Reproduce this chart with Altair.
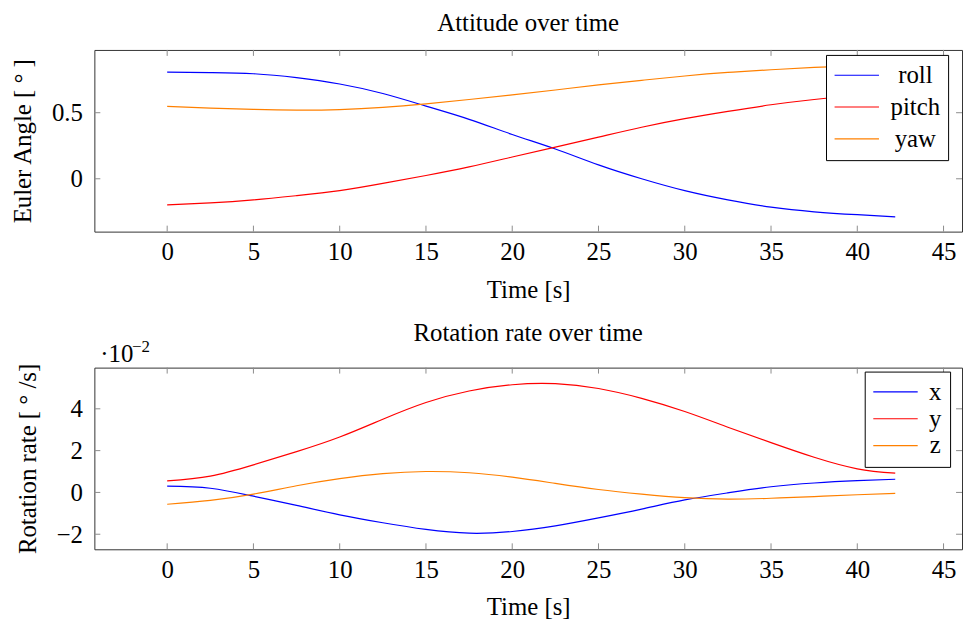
import altair as alt
import pandas as pd

# ---- data ----
time = [0, 2.5, 5, 7.5, 10, 12.5, 15, 17.5, 20, 22.5, 25, 27.5, 30, 32.5, 35, 37.5, 40, 42.2]

roll = [0.807, 0.803, 0.795, 0.765, 0.717, 0.645, 0.55, 0.45, 0.335, 0.225, 0.105, 0.0,
        -0.09, -0.16, -0.215, -0.25, -0.272, -0.288]
pitch = [-0.198, -0.183, -0.16, -0.128, -0.09, -0.035, 0.025, 0.09, 0.165, 0.24, 0.315, 0.39,
         0.455, 0.51, 0.56, 0.60, 0.63, 0.645]
yaw = [0.548, 0.535, 0.525, 0.52, 0.524, 0.54, 0.567, 0.6, 0.635, 0.672, 0.71, 0.745,
       0.778, 0.805, 0.825, 0.843, 0.855, 0.86]

# rotation rates, in units of 1e-2 deg/s
rate_x = [0.30, 0.2, -0.18, -0.62, -1.07, -1.45, -1.77, -1.95, -1.87, -1.6, -1.22, -0.8,
          -0.36, -0.02, 0.27, 0.45, 0.56, 0.63]
rate_y = [0.55, 0.78, 1.32, 1.95, 2.65, 3.5, 4.3, 4.85, 5.15, 5.2, 4.97, 4.5,
          3.87, 3.12, 2.38, 1.68, 1.13, 0.92]
rate_z = [-0.565, -0.38, -0.08, 0.32, 0.66, 0.9, 1.0, 0.94, 0.73, 0.43, 0.14, -0.08,
          -0.25, -0.32, -0.28, -0.2, -0.11, -0.05]

att_names = ["roll", "pitch", "yaw"]
rate_names = ["x", "y", "z"]
colors = ["#0000ff", "#ff0000", "#ff8000"]

x_ticks = [0, 5, 10, 15, 20, 25, 30, 35, 40, 45]
att_ticks = [0, 0.5]
rate_ticks = [-2, 0, 2, 4]

att_title = "Attitude over time"
rate_title = "Rotation rate over time"
att_ylabel = "Euler Angle [ ° ]"
rate_ylabel = "Rotation rate [ ° /s]"
x_label = "Time [s]"
scale_base = "·10"
scale_exp = "−2"

# ---- styling ----
FONT = "Liberation Serif"
FS = 25
W, H = 874, 183
TICK = "#8c8c8c"
TL = 6
x_domain = [-4.22, 46.07]


def long_df(names, series):
    rows = []
    for n, s in zip(names, series):
        for t, v in zip(time, s):
            rows.append({"t": t, "value": v, "series": n})
    return pd.DataFrame(rows)


def panel(df, names, ydom, yticks, ytitle, title, title_offset, lx, ly, rowpad, lab_off,
          extra=None):
    xenc = alt.X("t:Q",
                 scale=alt.Scale(domain=x_domain, nice=False, zero=False),
                 axis=alt.Axis(values=x_ticks, title=x_label, ticks=False, tickSize=0,
                               domain=False, grid=False, labelFont=FONT, labelFontSize=FS,
                               labelColor="black", labelPadding=8, titleFont=FONT,
                               titleFontSize=FS, titleFontWeight="normal",
                               titleColor="black", titlePadding=13, labelFlush=False))
    yenc = alt.Y("value:Q",
                 scale=alt.Scale(domain=ydom, nice=False, zero=False),
                 axis=alt.Axis(values=yticks, format="~g", title=ytitle, ticks=False,
                               tickSize=0, domain=False, grid=False, labelFont=FONT,
                               labelFontSize=FS, labelColor="black", labelPadding=12,
                               titleFont=FONT, titleFontSize=FS, titleFontWeight="normal",
                               titleColor="black", titlePadding=16))
    lines = alt.Chart(df).mark_line(strokeWidth=1.2, interpolate="natural").encode(
        x=xenc, y=yenc,
        color=alt.Color("series:N", scale=alt.Scale(domain=names, range=colors),
                        legend=alt.Legend(title=None, orient="none", legendX=lx, legendY=ly,
                                          strokeColor="black", fillColor="white",
                                          padding=8, cornerRadius=0, symbolType="stroke",
                                          symbolSize=2000, symbolStrokeWidth=1.2,
                                          labelFont=FONT, labelFontSize=FS,
                                          labelColor="black", labelAlign="center",
                                          labelOffset=lab_off,
                                          clipHeight=25, rowPadding=rowpad)),
    )
    xt = pd.DataFrame({"t": x_ticks})
    yt = pd.DataFrame({"value": yticks})
    r1 = alt.Chart(xt).mark_rule(color=TICK, strokeWidth=1).encode(
        x=xenc, y=alt.value(H), y2=alt.value(H - TL))
    r2 = alt.Chart(xt).mark_rule(color=TICK, strokeWidth=1).encode(
        x=xenc, y=alt.value(0), y2=alt.value(TL))
    r3 = alt.Chart(yt).mark_rule(color=TICK, strokeWidth=1).encode(
        y=yenc, x=alt.value(0), x2=alt.value(TL))
    r4 = alt.Chart(yt).mark_rule(color=TICK, strokeWidth=1).encode(
        y=yenc, x=alt.value(W), x2=alt.value(W - TL))
    layers = [r1, r2, r3, r4, lines]
    if extra is not None:
        layers += extra
    return alt.layer(*layers).properties(
        width=W, height=H,
        title=alt.TitleParams(title, font=FONT, fontSize=FS, fontWeight="normal",
                              color="black", offset=title_offset, anchor="middle",
                              frame="group"),
    )


top = panel(long_df(att_names, [roll, pitch, yaw]), att_names, [-0.40, 0.975], att_ticks,
            att_ylabel, att_title, 14, 737, 5, 6, 36)

base_txt = alt.Chart(pd.DataFrame({"s": [scale_base]})).mark_text(
    font=FONT, fontSize=FS, align="left", baseline="alphabetic", color="black").encode(
    text="s:N", x=alt.value(6), y=alt.value(-6))
exp_txt = alt.Chart(pd.DataFrame({"s": [scale_exp]})).mark_text(
    font=FONT, fontSize=17, align="left", baseline="alphabetic", color="black").encode(
    text="s:N", x=alt.value(38), y=alt.value(-16))

bottom = panel(long_df(rate_names, [rate_x, rate_y, rate_z]), rate_names, [-2.72, 5.97],
               rate_ticks, rate_ylabel, rate_title, -8, 776, 4, 1, 17,
               extra=[base_txt, exp_txt])

chart = alt.vconcat(top, bottom, spacing=17).resolve_scale(
    x="independent", y="independent", color="independent"
).properties(
    padding={"left": 2, "top": 0, "right": 0, "bottom": 0}
).configure_view(stroke="#333333", strokeWidth=1)

chart.save("out.html", embed_options={"renderer": "svg", "actions": False})
